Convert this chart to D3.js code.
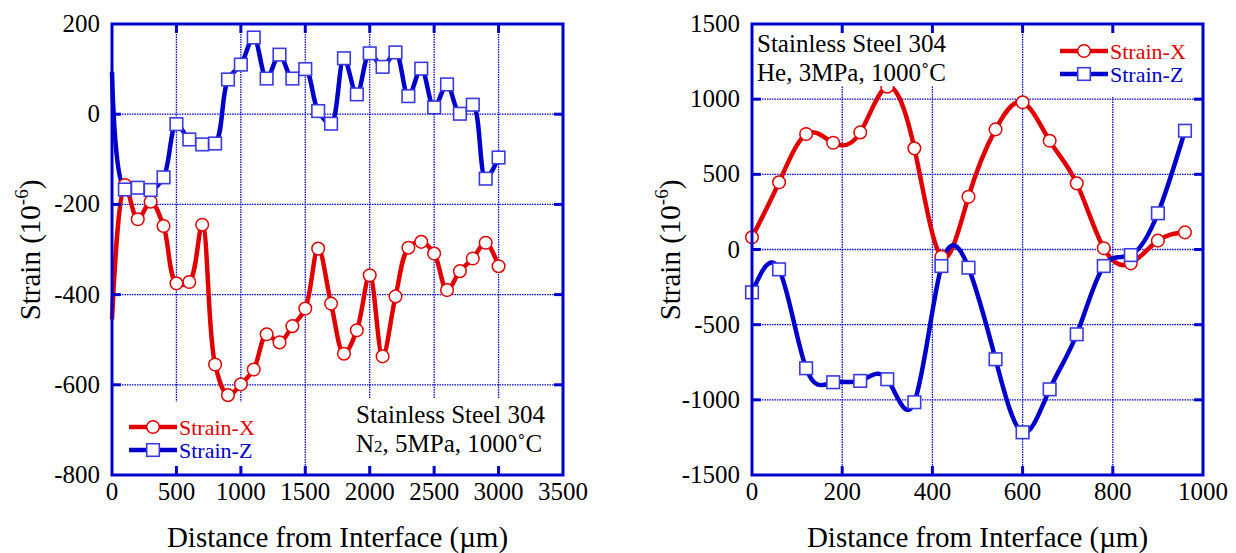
<!DOCTYPE html>
<html>
<head>
<meta charset="utf-8">
<script src="https://cdn.jsdelivr.net/npm/d3@7"></script>
<style>
body { margin: 0; background: #fff; }
text { font-family: "Liberation Serif", serif; }
</style>
</head>
<body>
<svg id="chart" width="1236" height="553" font-family="Liberation Serif, serif"></svg>
<script>
// left panel: N2, 5MPa, 1000C
var distN2 = [0, 100, 200, 300, 400, 500, 600, 700, 800, 900, 1000, 1100, 1200, 1300, 1400,
    1500, 1600, 1700, 1800, 1900, 2000, 2100, 2200, 2300, 2400, 2500, 2600, 2700, 2800, 2900, 3000]
var strainXN2 = [-455, -157, -233, -194, -248, -375, -372, -245, -555, -623, -599, -566, -488, -506, -470,
    -431, -298, -420, -531, -479, -357, -537, -404, -296, -283, -309, -390, -348, -320, -285, -337]
var strainZN2 = [94, -167, -163, -168, -140, -22, -56, -67, -65, 77, 110, 170, 79, 132, 79,
    100, 7, -21, 124, 44, 135, 105, 137, 40, 101, 15, 66, 1, 21, -143, -96]
var ticksXN2 = [0, 500, 1000, 1500, 2000, 2500, 3000, 3500]
var ticksYN2 = [-800, -600, -400, -200, 0, 200]

// right panel: He, 3MPa, 1000C
var distHe = [0, 60, 120, 180, 240, 300, 360, 420, 480, 540, 600, 660, 720, 780, 840, 900, 960]
var strainXHe = [81, 447, 768, 710, 779, 1083, 673, -48, 351, 799, 979, 723, 440, 8, -92, 59, 114]
var strainZHe = [-285, -132, -790, -883, -874, -863, -1016, -110, -121, -730, -1216, -930, -564, -110, -37, 241, 790]
var ticksXHe = [0, 200, 400, 600, 800, 1000]
var ticksYHe = [-1500, -1000, -500, 0, 500, 1000, 1500]

var seriesNames = ["Strain-X", "Strain-Z"]

var red = "#e00000", blue = "#0000cc"
var serif = "Liberation Serif, serif"
var svg = d3.select("#chart")

// place text with start anchor, then shift it by its own width (anchor: 0, 0.5, 1)
function placeText(g, x, y, str, size, anchor) {
    var t = g.append("text").attr("x", x).attr("y", y)
        .attr("font-family", serif).attr("font-size", size).text(str)
    var w = t.node().getComputedTextLength()
    t.attr("x", x - w * anchor)
    return t
}

function drawPanel(p) {
    var x = d3.scaleLinear().domain(p.xDomain).range([p.left, p.right])
    var y = d3.scaleLinear().domain(p.yDomain).range([p.bottom, p.top])
    var g = svg.append("g").attr("font-family", serif)

    // dotted grid
    g.selectAll(".gx").data(p.xTicks.slice(1, -1)).enter().append("line")
        .attr("x1", function (d) { return x(d) }).attr("x2", function (d) { return x(d) })
        .attr("y1", p.top).attr("y2", p.bottom)
        .attr("stroke", blue).attr("stroke-width", 1.3).attr("stroke-dasharray", "1.5,1")
    g.selectAll(".gy").data(p.yTicks.slice(1, -1)).enter().append("line")
        .attr("y1", function (d) { return y(d) }).attr("y2", function (d) { return y(d) })
        .attr("x1", p.left).attr("x2", p.right)
        .attr("stroke", blue).attr("stroke-width", 1.3).attr("stroke-dasharray", "1.5,1")

    var line = d3.line().curve(p.curve)
        .x(function (d) { return x(d[0]) }).y(function (d) { return y(d[1]) })

    var sets = [
        { vals: p.sx, color: red, shape: "circle" },
        { vals: p.sz, color: blue, shape: "square" }
    ]
    sets.forEach(function (s) {
        var pts = p.dist.map(function (d, i) { return [d, s.vals[i]] })
        g.append("path").attr("d", line(pts)).attr("fill", "none")
            .attr("stroke", s.color).attr("stroke-width", 4.5)
    })
    sets.forEach(function (s) {
        var pts = p.dist.map(function (d, i) { return [d, s.vals[i]] }).slice(p.markFrom)
        drawMarks(g, pts.map(function (d) { return [x(d[0]), y(d[1])] }), s.shape, s.color)
    })

    // white boxes behind the notes
    p.boxes.forEach(function (b) {
        g.append("rect").attr("x", b[0]).attr("y", b[1]).attr("width", b[2]).attr("height", b[3])
            .attr("fill", "#fff")
    })

    // frame + inward ticks
    g.append("rect").attr("x", p.left).attr("y", p.top)
        .attr("width", p.right - p.left).attr("height", p.bottom - p.top)
        .attr("fill", "none").attr("stroke", blue).attr("stroke-width", 3)
    var tl = 9
    p.xTicks.slice(1, -1).forEach(function (d) {
        g.append("line").attr("x1", x(d)).attr("x2", x(d)).attr("y1", p.bottom).attr("y2", p.bottom - tl)
            .attr("stroke", blue).attr("stroke-width", 3)
        g.append("line").attr("x1", x(d)).attr("x2", x(d)).attr("y1", p.top).attr("y2", p.top + tl)
            .attr("stroke", blue).attr("stroke-width", 3)
    })
    p.yTicks.slice(1, -1).forEach(function (d) {
        g.append("line").attr("y1", y(d)).attr("y2", y(d)).attr("x1", p.left).attr("x2", p.left + tl)
            .attr("stroke", blue).attr("stroke-width", 3)
        g.append("line").attr("y1", y(d)).attr("y2", y(d)).attr("x1", p.right).attr("x2", p.right - tl)
            .attr("stroke", blue).attr("stroke-width", 3)
    })

    // tick labels
    p.xTicks.forEach(function (d) { placeText(g, x(d), p.bottom + 25, String(d), 25, 0.5) })
    p.yTicks.forEach(function (d) { placeText(g, p.left - 12, y(d) + 8, String(d), 25, 1) })

    // axis titles
    placeText(g, (p.left + p.right) / 2, 547, "Distance from Interface (\u00b5m)", 29, 0.5)
    var yg = g.append("g").attr("transform", "translate(" + (p.left - 72) + "," + 250 + ") rotate(-90)")
    var yt = yg.append("text").attr("font-family", serif).attr("font-size", 29)
    yt.append("tspan").text("Strain (10")
    yt.append("tspan").attr("dy", -12).attr("font-size", 19).text("-6")
    yt.append("tspan").attr("dy", 12).text(")")
    yt.attr("x", -yt.node().getComputedTextLength() / 2)

    // legend
    seriesNames.forEach(function (n, i) {
        var s = sets[i]
        var ly = p.legY + i * 23
        g.append("line").attr("x1", p.legX).attr("x2", p.legX + 48).attr("y1", ly).attr("y2", ly)
            .attr("stroke", s.color).attr("stroke-width", 4.5)
        drawMarks(g, [[p.legX + 24, ly]], s.shape, s.color)
        placeText(g, p.legX + 50, ly + 8, n, 22, 0).attr("fill", s.color)
    })

    // note
    var note = g.append("text").attr("font-family", serif).attr("font-size", 25)
    note.append("tspan").attr("x", p.noteX).attr("y", p.noteY).text("Stainless Steel 304")
    var l2 = note.append("tspan").attr("x", p.noteX).attr("y", p.noteY + 29)
    p.note2.forEach(function (part) {
        var t = l2.append("tspan").text(part[0])
        if (part[1] == "sub") t.attr("font-size", 17)
    })
}

function drawMarks(g, pts, shape, color) {
    if (shape == "circle") {
        g.selectAll(null).data(pts).enter().append("circle")
            .attr("cx", function (d) { return d[0] }).attr("cy", function (d) { return d[1] })
            .attr("r", 6.3).attr("fill", "#fff").attr("stroke", color).attr("stroke-width", 1.5)
    } else {
        g.selectAll(null).data(pts).enter().append("rect")
            .attr("x", function (d) { return d[0] - 6.3 }).attr("y", function (d) { return d[1] - 6.3 })
            .attr("width", 12.6).attr("height", 12.6)
            .attr("fill", "#fff").attr("stroke", "#3a3ae0").attr("stroke-width", 1.6)
    }
}

drawPanel({
    left: 112, right: 563, top: 24, bottom: 475,
    xDomain: [0, 3500], yDomain: [-800, 200],
    xTicks: ticksXN2, yTicks: ticksYN2,
    dist: distN2, sx: strainXN2, sz: strainZN2, markFrom: 1,
    curve: d3.curveCatmullRom.alpha(0.5),
    boxes: [[113, 402, 182, 72], [344, 399, 218, 75]],
    legX: 129, legY: 427,
    noteX: 356, noteY: 423,
    note2: [["N"], ["2", "sub"], [", 5MPa, 1000\u02daC"]]
})

drawPanel({
    left: 752, right: 1203, top: 24, bottom: 475,
    xDomain: [0, 1000], yDomain: [-1500, 1500],
    xTicks: ticksXHe, yTicks: ticksYHe,
    dist: distHe, sx: strainXHe, sz: strainZHe, markFrom: 0,
    curve: d3.curveNatural,
    boxes: [[753, 25, 197, 61], [1055, 25, 147, 72]],
    legX: 1060, legY: 51,
    noteX: 757, noteY: 52,
    note2: [["He, 3MPa, 1000\u02daC"]]
})
</script>
</body>
</html>
